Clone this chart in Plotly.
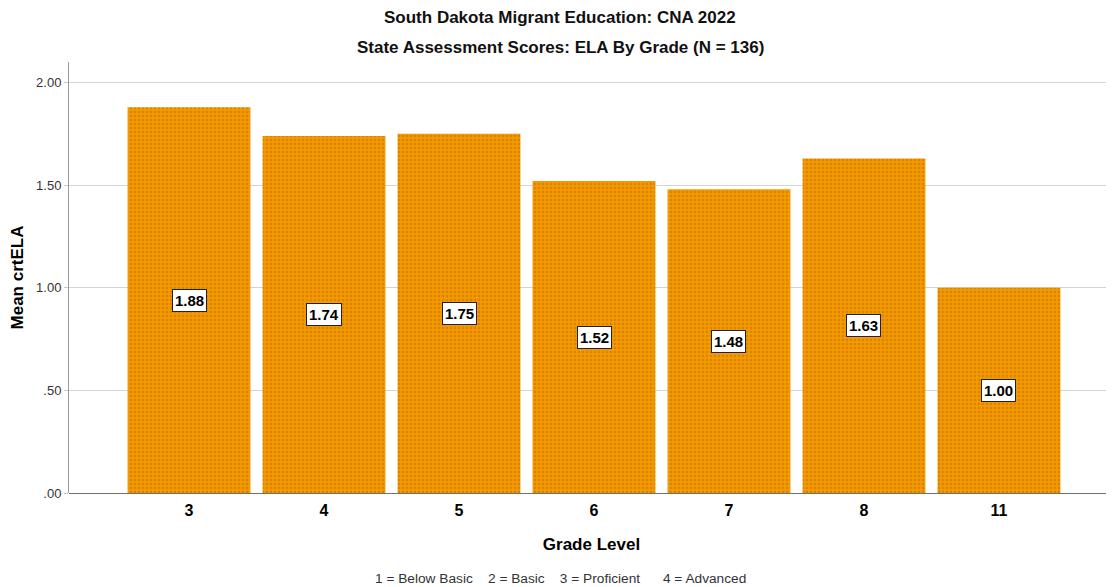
import plotly.graph_objects as go

grades = ["3", "4", "5", "6", "7", "8", "11"]
means = [1.88, 1.74, 1.75, 1.52, 1.48, 1.63, 1.00]
labels = ["1.88", "1.74", "1.75", "1.52", "1.48", "1.63", "1.00"]
ytick_vals = [0, 0.5, 1.0, 1.5, 2.0]
ytick_text = [".00", ".50", "1.00", "1.50", "2.00"]
title1 = "South Dakota Migrant Education: CNA 2022"
title2 = "State Assessment Scores: ELA By Grade (N = 136)"
footnote = ("1 = Below Basic&nbsp;&nbsp;&nbsp;&nbsp;2 = Basic&nbsp;&nbsp;&nbsp;&nbsp;"
            "3 = Proficient&nbsp;&nbsp;&nbsp;&nbsp;&nbsp;&nbsp;4 = Advanced")

# page body has an 8px offset; figure sized to end at window edge
W, H = 1106, 579
L, T, B = 61, 54, 94
xc = (560 - 69) / 1045  # horizontal centre of titles/footnote

fig = go.Figure()
fig.add_trace(go.Bar(
    x=grades, y=means,
    marker=dict(
        color="#F29A00",
        line=dict(width=0),
        pattern=dict(shape=".", fgcolor="#C86A00", size=4, solidity=0.35),
    ),
    width=0.91,
    hoverinfo="skip",
))

for i, (v, t) in enumerate(zip(means, labels)):
    fig.add_annotation(
        x=i, y=v / 2, text=t, showarrow=False,
        font=dict(family="Arial", size=15, color="black", weight="bold"),
        bgcolor="white", bordercolor="#222222", borderwidth=1, borderpad=2,
    )

fig.add_annotation(
    x=xc, xref="paper", y=1, yref="paper", yanchor="middle", xanchor="center",
    yshift=62 - 17, text="<b>" + title1 + "</b>", showarrow=False,
    font=dict(family="Arial", size=17, color="#111111"),
)
fig.add_annotation(
    x=xc, xref="paper", y=1, yref="paper", yanchor="middle", xanchor="center",
    yshift=62 - 47, text="<b>" + title2 + "</b>", showarrow=False,
    font=dict(family="Arial", size=17, color="#111111"),
)
fig.add_annotation(
    x=xc, xref="paper", y=0, yref="paper", yanchor="middle", xanchor="center",
    yshift=-(578 - 493), text=footnote,
    showarrow=False, font=dict(family="Arial", size=13.7, color="#333333"),
)

fig.update_layout(
    width=W, height=H,
    margin=dict(l=L, r=0, t=T, b=B, autoexpand=False),
    paper_bgcolor="white", plot_bgcolor="white",
    showlegend=False,
    font=dict(family="Arial", color="black"),
    xaxis=dict(
        type="category", range=[-0.889, 6.852],
        showgrid=False, showline=False, ticks="",
        automargin=False, ticklabelstandoff=6,
        tickfont=dict(family="Arial", size=16, color="black", weight="bold"),
        title=dict(text="<b>Grade Level</b>", font=dict(family="Arial", size=17), standoff=20),
    ),
    yaxis=dict(
        range=[0, 2.1], tickvals=ytick_vals, ticktext=ytick_text,
        automargin=False,
        showgrid=True, gridcolor="#d4d4d4", gridwidth=1,
        showline=True, linecolor="#9a9a9a", linewidth=1,
        ticks="outside", ticklen=4, tickcolor="#c8c8c8",
        tickfont=dict(family="Arial", size=13, color="#333333"),
        title=dict(text="<b>Mean crtELA</b>", font=dict(family="Arial", size=17), standoff=10),
        zeroline=True, zerolinecolor="#707070", zerolinewidth=1,
    ),
)

fig.write_html("out.html")
